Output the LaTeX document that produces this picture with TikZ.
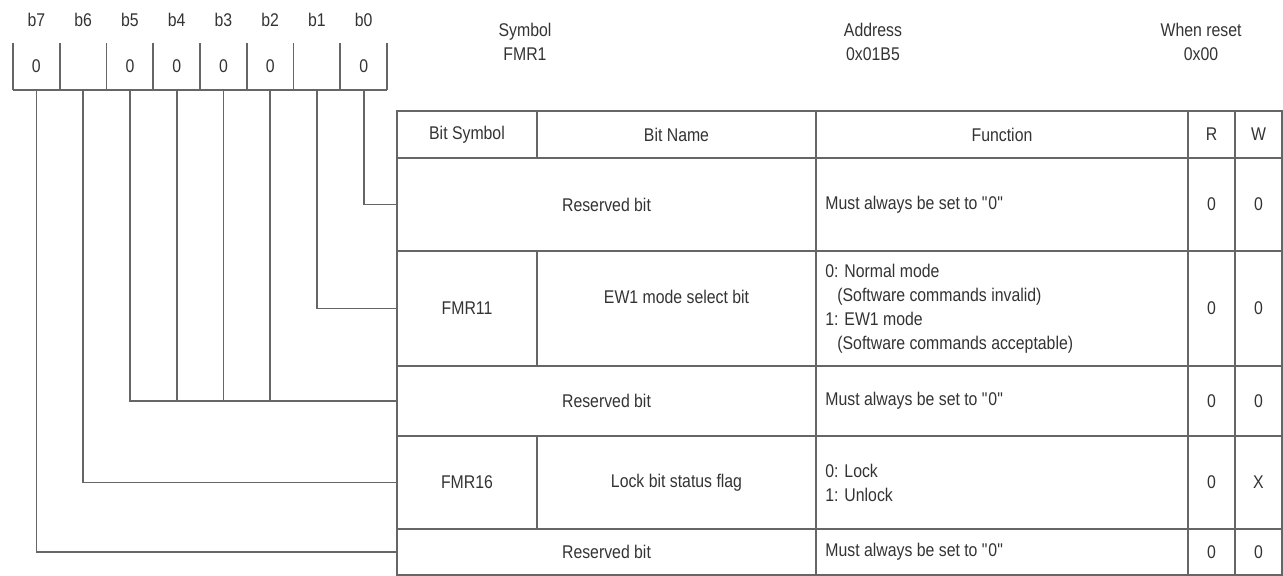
\documentclass[tikz,border=0pt]{standalone}
\usepackage{fontspec}
\setmainfont{Liberation Sans}[FakeStretch=0.86]
\usetikzlibrary{positioning}

\definecolor{rulegray}{HTML}{666666}
\definecolor{inkgray}{HTML}{333333}

\tikzset{
  regline/.style={draw=rulegray, line width=0.85pt},
  txt/.style={font=\fontsize{9.2}{12}\selectfont, text=inkgray, inner sep=0pt},
  bitcell/.style={txt, minimum width=23.4pt, minimum height=23.5pt},
}
\newcommand{\mustzero}{Must always be set to \textquotedbl 0\textquotedbl}

\begin{document}
\begin{tikzpicture}[x=0.5pt,y=-0.5pt]
\useasboundingbox (0,0) rectangle (1283,576);
% register bits
\foreach \i/\v in {7/0,6/{},5/0,4/0,3/0,2/0,1/{},0/0} {
  \node[txt] (lab\i) at ({36.4+(7-\i)*46.75},20) {b\i};
  \node[bitcell, anchor=south] (bit\i) at ({36.4+(7-\i)*46.75},90) {\v};
}
\foreach \k in {0,...,8} {\draw[regline] ({13+\k*46.75},43) -- ({13+\k*46.75},90);}
\draw[regline] (13,90) -- (387,90);
% symbol, address, reset value
\node[txt, align=center] (sym) at (525,42) {Symbol\\FMR1};
\node[txt, align=center] (adr) at (873,42) {Address\\0x01B5};
\node[txt, align=center] (rst) at (1201,42) {When reset\\0x00};
% table grid
\draw[regline] (397,111) rectangle (1282,575);
\foreach \y in {158,251,366,436,529} {\draw[regline] (397,\y) -- (1282,\y);}
\foreach \x in {816,1188,1235} {\draw[regline] (\x,111) -- (\x,575);}
\draw[regline] (537,111) -- (537,158);
\draw[regline] (537,251) -- (537,366);
\draw[regline] (537,436) -- (537,529);
% header
\node[txt] (hsym) at (467,134.5) {Bit Symbol};
\node[txt] (hname) at (676.5,134.5) {Bit Name};
\node[txt] (hfunc) at (1002,134.5) {Function};
\node[txt] (hr) at (1211.5,134.5) {R};
\node[txt] (hw) at (1258.5,134.5) {W};
% rows
\node[txt] (name1) at (606.5,204.5) {Reserved bit};
\node[txt, anchor=west] (func1) at (825,204.5) {\mustzero};
\node[txt] (r1) at (1211.5,204.5) {0};
\node[txt] (w1) at (1258.5,204.5) {0};

\node[txt] (sym2) at (467,308.5) {FMR11};
\node[txt] (name2) at (676.5,297) {EW1 mode select bit};
\node[txt, anchor=west, align=left] (func2) at (825,308.5)
  {0: Normal mode\\\hspace{6pt}(Software commands invalid)\\1: EW1 mode\\\hspace{6pt}(Software commands acceptable)};
\node[txt] (r2) at (1211.5,308.5) {0};
\node[txt] (w2) at (1258.5,308.5) {0};

\node[txt] (name3) at (606.5,401) {Reserved bit};
\node[txt, anchor=west] (func3) at (825,401) {\mustzero};
\node[txt] (r3) at (1211.5,401) {0};
\node[txt] (w3) at (1258.5,401) {0};

\node[txt] (sym4) at (467,482.5) {FMR16};
\node[txt] (name4) at (676.5,482.5) {Lock bit status flag};
\node[txt, anchor=west, align=left] (func4) at (825,482.5) {0: Lock\\1: Unlock};
\node[txt] (r4) at (1211.5,482.5) {0};
\node[txt] (w4) at (1258.5,482.5) {X};

\node[txt] (name5) at (606.5,552) {Reserved bit};
\node[txt, anchor=west] (func5) at (825,552) {\mustzero};
\node[txt] (r5) at (1211.5,552) {0};
\node[txt] (w5) at (1258.5,552) {0};
% bit to row connectors
\coordinate (in1) at (397,204.5);
\coordinate (in2) at (397,308.5);
\coordinate (in3) at (397,401);
\coordinate (in4) at (397,482.5);
\coordinate (in5) at (397,552);
\draw[regline] (bit0.south) |- (in1);
\draw[regline] (bit1.south) |- (in2);
\draw[regline] (bit5.south) |- (in3);
\foreach \i in {4,3,2} {\draw[regline] (bit\i.south) -- (bit\i.south |- in3);}
\draw[regline] (bit6.south) |- (in4);
\draw[regline] (bit7.south) |- (in5);
\end{tikzpicture}
\end{document}
